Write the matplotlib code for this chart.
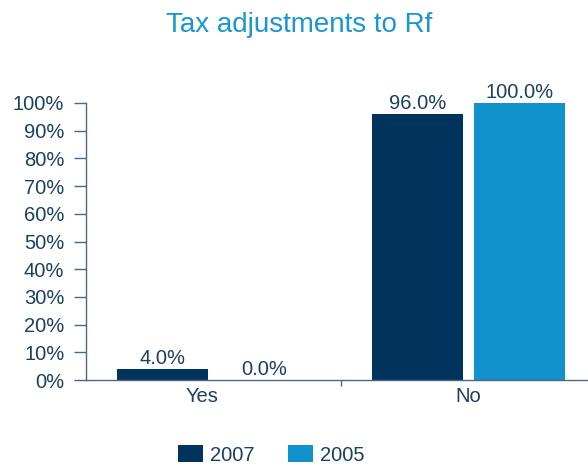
import matplotlib
matplotlib.use("Agg")
import matplotlib.pyplot as plt
import numpy as np

categories = ["Yes", "No"]
series_names = ["2007", "2005"]
values_2007 = [4.0, 96.0]
values_2005 = [0.0, 100.0]
ytick_values = [0, 10, 20, 30, 40, 50, 60, 70, 80, 90, 100]
title = "Tax adjustments to Rf"

plt.rcParams['font.family'] = ['Liberation Sans', 'DejaVu Sans']
text_color = "#1d3f61"
axis_color = "#4b6886"
c2007 = "#00345c"
c2005 = "#1192cc"

W, H = 588, 468
fig = plt.figure(figsize=(W / 100, H / 100), dpi=100)
ax = fig.add_axes([86 / W, 1 - 380 / H, 510 / W, 277 / H])

x = np.arange(len(categories))
bw = 0.36
b1 = ax.bar(x - 0.2, values_2007, bw, color=c2007, label=series_names[0])
b2 = ax.bar(x + 0.2, values_2005, bw, color=c2005, label=series_names[1])
for b in (b1, b2):
    ax.bar_label(b, labels=[f"{v:.1f}%" for v in b.datavalues], padding=1,
                 fontsize=14.5, color=text_color)

ax.set_xlim(-0.5, 1.5)
ax.set_ylim(0, 100)
ax.set_yticks(ytick_values)
ax.set_yticklabels([f"{v}%" for v in ytick_values])
# category labels (the "Yes" label sits slightly left of its group in the original)
ax.set_xticks(x + np.array([-0.045, 0.0]))
ax.set_xticklabels(categories)
ax.set_xticks([0.5], minor=True)
ax.tick_params(axis='y', length=8.6, width=1, color=axis_color, pad=7,
               labelsize=14.5, labelcolor=text_color)
ax.tick_params(axis='x', which='major', length=0, pad=5,
               labelsize=14.5, labelcolor=text_color)
ax.tick_params(axis='x', which='minor', length=4.5, width=1, color=axis_color)
for s in ("top", "right"):
    ax.spines[s].set_visible(False)
for s in ("left", "bottom"):
    ax.spines[s].set_color(axis_color)
    ax.spines[s].set_linewidth(1)

fig.text(299 / W, 1 - 32 / H, title, ha="center", va="baseline",
         fontsize=20, color="#1b96d0")

fig.legend(handles=[b1, b2], labels=series_names, loc="center",
           bbox_to_anchor=(271 / W, 1 - 455 / H), ncol=2, frameon=False,
           fontsize=14.5, labelcolor=text_color, handlelength=1.25,
           handleheight=0.85, handletextpad=0.35, columnspacing=1.65)

fig.savefig("out.png", dpi=100)
